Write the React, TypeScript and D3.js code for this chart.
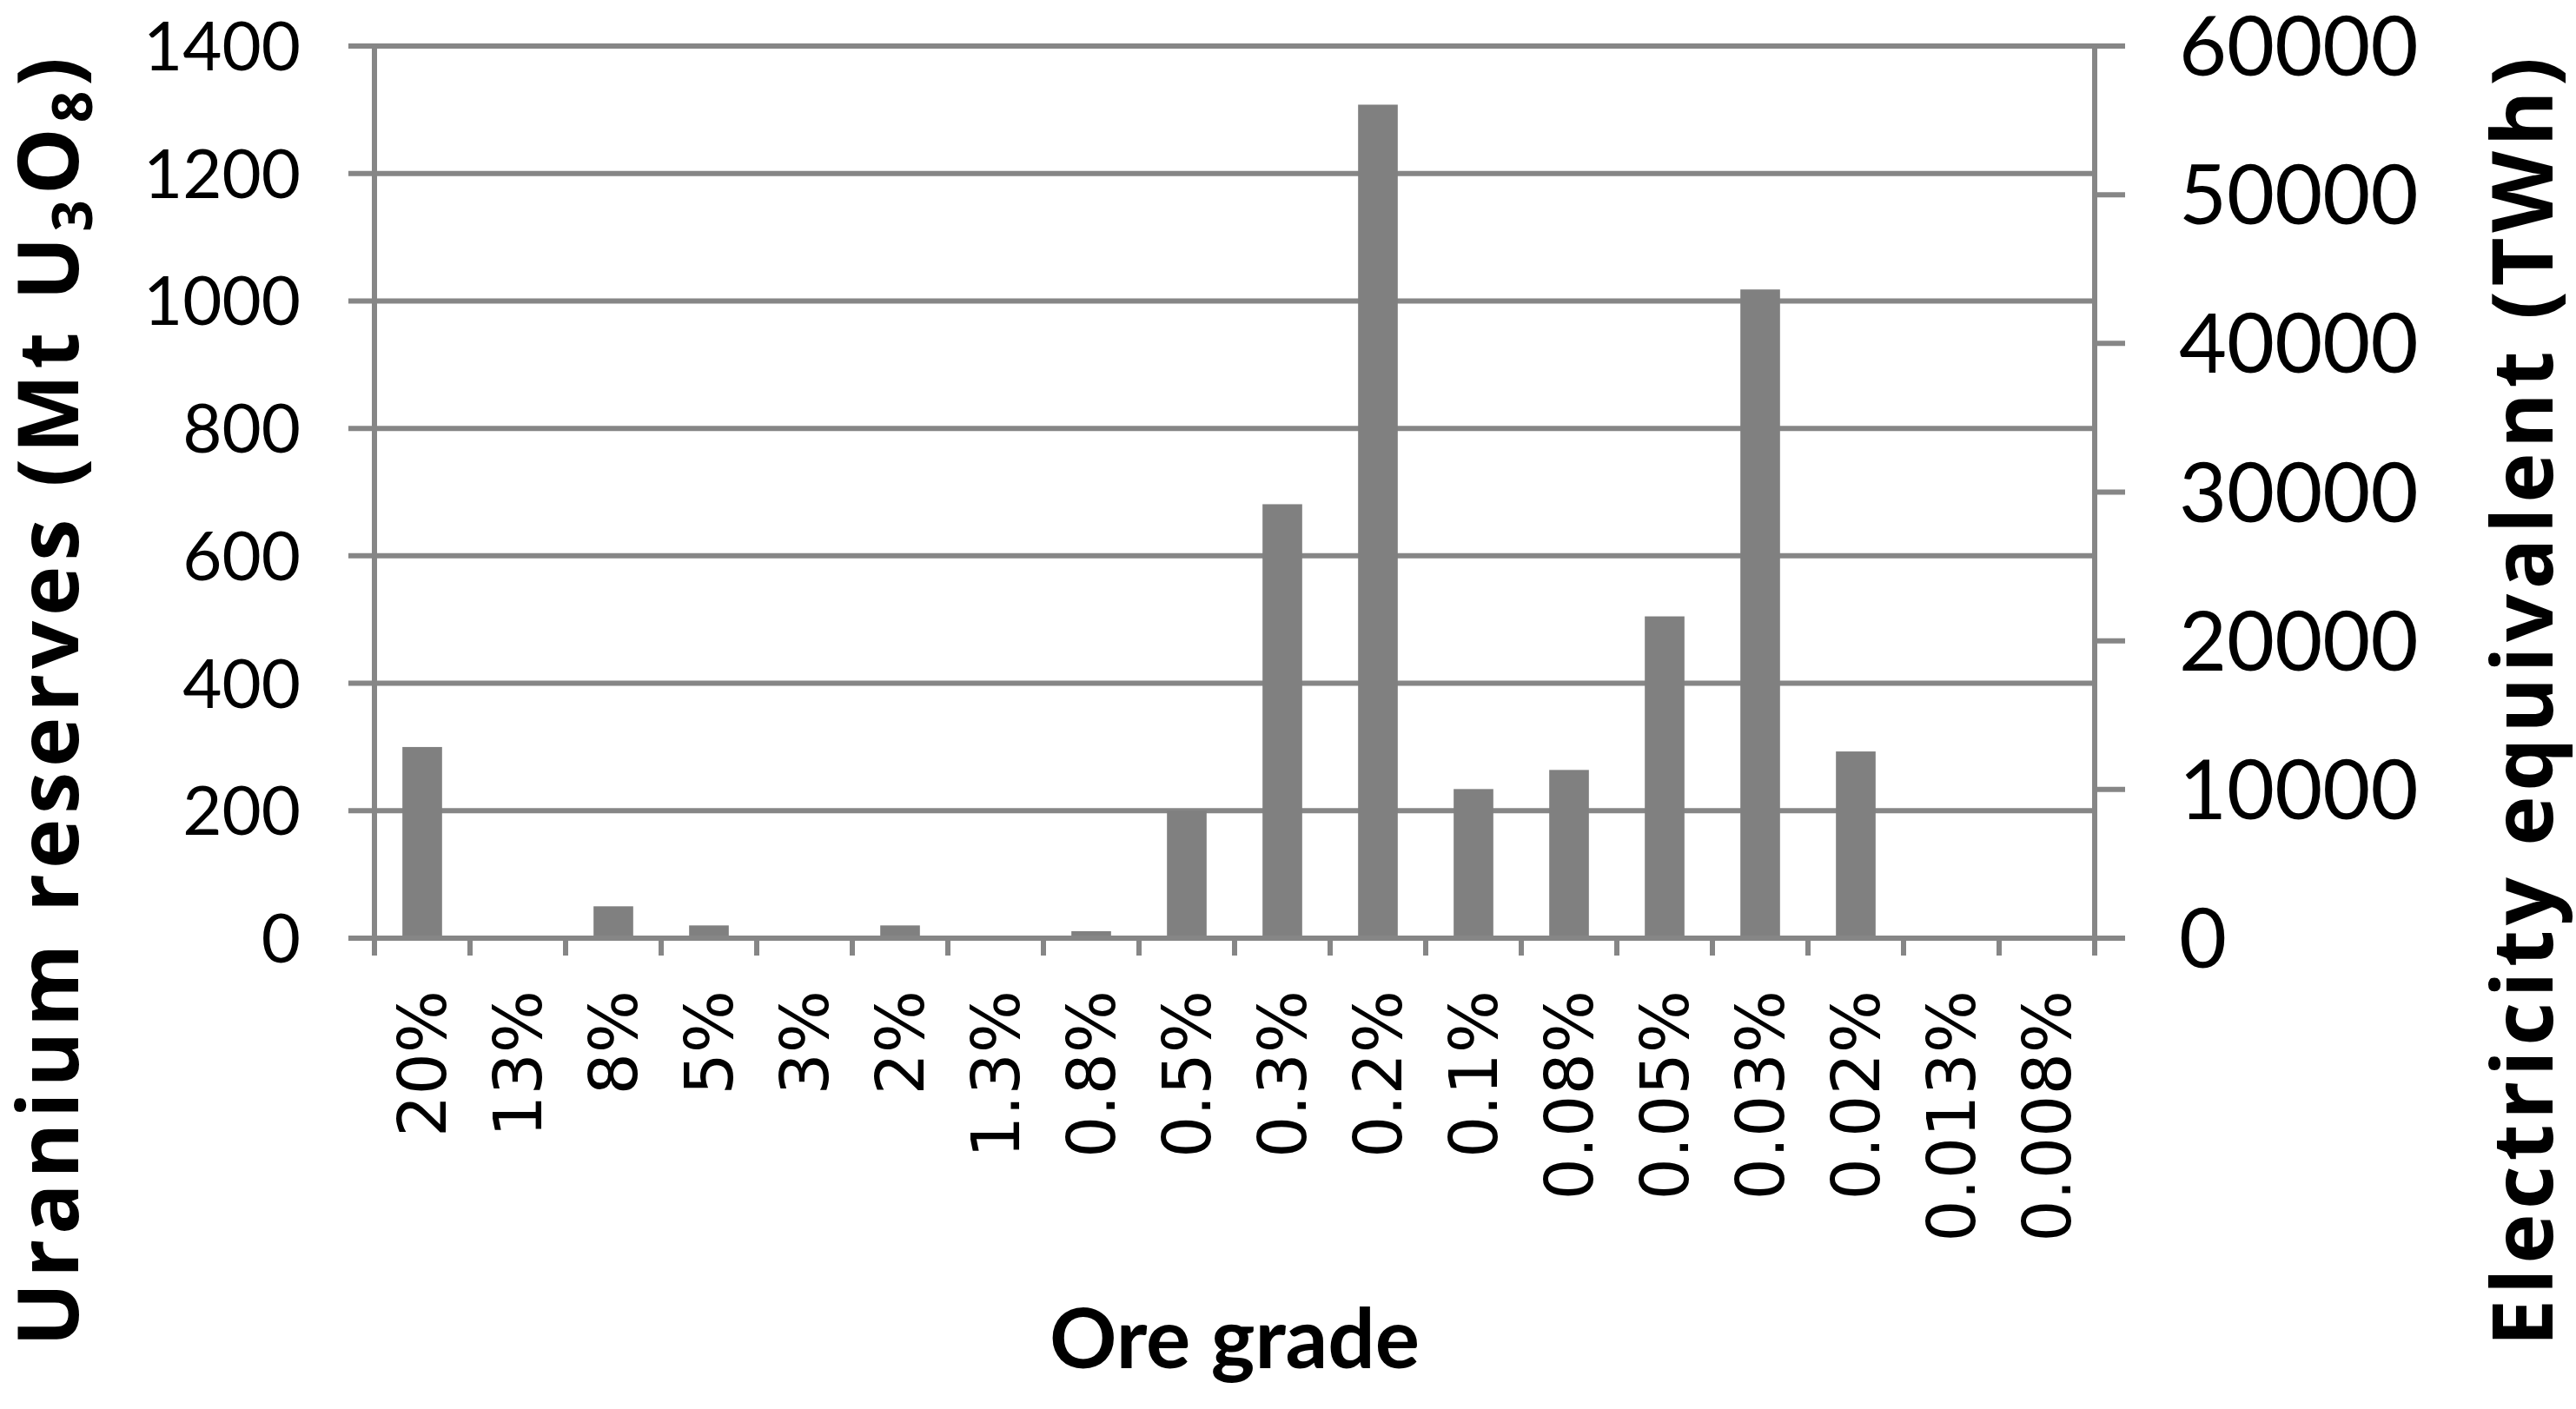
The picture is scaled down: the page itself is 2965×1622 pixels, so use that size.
import React, { useEffect, useRef } from 'react';
import * as d3 from 'd3';

// ore grade categories (x axis)
const grades = ['20%', '13%', '8%', '5%', '3%', '2%', '1.3%', '0.8%', '0.5%', '0.3%', '0.2%', '0.1%', '0.08%', '0.05%', '0.03%', '0.02%', '0.013%', '0.008%'];
// uranium reserves, Mt U3O8
const reserves = [300, 0, 50, 20, 0, 20, 0, 11, 200, 681, 1308, 234, 264, 505, 1018, 293, 0, 0];
const leftTicks = [0, 200, 400, 600, 800, 1000, 1200, 1400];
const rightTicks = [0, 10000, 20000, 30000, 40000, 50000, 60000];

export default function App() {
  const ref = useRef<SVGSVGElement>(null);
  useEffect(() => {
    document.body.style.margin = '0';
    const W = 2965, H = 1622;
    const left = 431, right = 2411, top = 53, bottom = 1080;
    const grey = '#868686';
    const svg = d3.select(ref.current).attr('width', W).attr('height', H);
    svg.selectAll('*').remove();
    svg.append('rect').attr('width', W).attr('height', H).attr('fill', '#fff');

    const x = d3.scaleBand().domain(grades).range([left, right]);
    const xb = d3.scaleBand().domain(grades).range([left, right]).paddingInner(0.585).paddingOuter(0.2925);
    const yL = d3.scaleLinear().domain([0, 1400]).range([bottom, top]);
    const yR = d3.scaleLinear().domain([0, 60000]).range([bottom, top]);

    // gridlines (also act as left ticks)
    svg.append('g').selectAll('line').data(leftTicks).join('line')
      .attr('x1', left - 30).attr('x2', right)
      .attr('y1', d => yL(d)).attr('y2', d => yL(d))
      .attr('stroke', grey).attr('stroke-width', 6);

    // bars
    svg.append('g').selectAll('rect').data(reserves).join('rect')
      .attr('x', (d, i) => xb(grades[i])!)
      .attr('width', xb.bandwidth())
      .attr('y', d => yL(d))
      .attr('height', d => bottom - yL(d))
      .attr('fill', '#808080');

    // axis lines
    svg.append('line').attr('x1', left).attr('x2', left).attr('y1', top).attr('y2', bottom + 20)
      .attr('stroke', grey).attr('stroke-width', 6);
    svg.append('line').attr('x1', right).attr('x2', right).attr('y1', top).attr('y2', bottom + 20)
      .attr('stroke', grey).attr('stroke-width', 6);
    svg.append('line').attr('x1', left - 30).attr('x2', right).attr('y1', bottom).attr('y2', bottom)
      .attr('stroke', grey).attr('stroke-width', 6);

    // category ticks
    const bounds = grades.map(g => x(g)!).concat([right]);
    svg.append('g').selectAll('line').data(bounds).join('line')
      .attr('x1', d => d).attr('x2', d => d)
      .attr('y1', bottom).attr('y2', bottom + 20)
      .attr('stroke', grey).attr('stroke-width', 6);

    // right ticks
    svg.append('g').selectAll('line').data(rightTicks).join('line')
      .attr('x1', right).attr('x2', right + 35)
      .attr('y1', d => yR(d)).attr('y2', d => yR(d))
      .attr('stroke', grey).attr('stroke-width', 6);

    // left tick labels
    svg.append('g').selectAll('text').data(leftTicks).join('text')
      .attr('x', 346).attr('y', d => yL(d) + 28)
      .attr('text-anchor', 'end')
      .attr('font-family', 'Lato').attr('font-size', 78).attr('fill', '#000')
      .text(d => d);

    // right tick labels
    svg.append('g').selectAll('text').data(rightTicks).join('text')
      .attr('x', 2508).attr('y', d => yR(d) + 34)
      .attr('text-anchor', 'start')
      .attr('font-family', 'Lato').attr('font-size', 95).attr('fill', '#000')
      .text(d => d);

    // category labels
    svg.append('g').selectAll('text').data(grades).join('text')
      .attr('transform', d => `translate(${x(d)! + x.bandwidth() / 2},1140) rotate(-90)`)
      .attr('text-anchor', 'end').attr('dominant-baseline', 'central')
      .attr('font-family', 'DejaVu Sans').attr('font-size', 76).attr('fill', '#000')
      .text(d => d);

    // x title
    svg.append('text').attr('x', (left + right) / 2).attr('y', 1575)
      .attr('text-anchor', 'middle')
      .attr('font-family', 'Lato').attr('font-weight', 'bold').attr('font-size', 96)
      .text('Ore grade');

    // left title with subscripts
    const lt = svg.append('text')
      .attr('transform', 'translate(90,808) rotate(-90)')
      .attr('text-anchor', 'middle')
      .attr('textLength', 1484).attr('lengthAdjust', 'spacing')
      .attr('font-family', 'Open Sans').attr('font-weight', 'bold').attr('font-size', 97);
    lt.append('tspan').text('Uranium reserves (Mt U');
    lt.append('tspan').attr('font-size', 64).attr('dy', 16).text('3');
    lt.append('tspan').attr('dy', -16).text('O');
    lt.append('tspan').attr('font-size', 64).attr('dy', 16).text('8');
    lt.append('tspan').attr('dy', -16).text(')');

    svg.append('text')
      .attr('transform', 'translate(2938,808) rotate(-90)')
      .attr('text-anchor', 'middle')
      .attr('textLength', 1484).attr('lengthAdjust', 'spacing')
      .attr('font-family', 'Open Sans').attr('font-weight', 'bold').attr('font-size', 97)
      .text('Electricity equivalent (TWh)');
  }, []);
  return <svg ref={ref} style={{ display: 'block' }} />;
}
